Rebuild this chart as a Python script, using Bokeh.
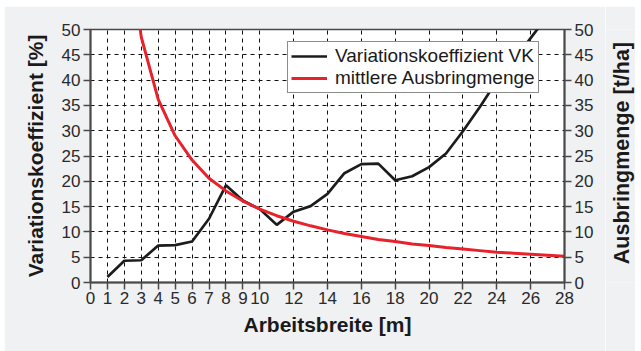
import math
from bokeh.plotting import figure
from bokeh.layouts import row
from bokeh.models import Range1d, LinearAxis, FixedTicker, Legend, LegendItem
from bokeh.core.properties import value
from bokeh.embed import file_html
from bokeh.resources import INLINE

# --- data ---
vk_x = list(range(1, 29))
vk_y = [1.1, 4.3, 4.4, 7.3, 7.4, 8.1, 12.6, 19.2, 16.2, 14.5, 11.4, 14.0, 15.1, 17.5,
        21.6, 23.4, 23.5, 20.2, 21.0, 22.8, 25.5, 29.9, 34.7, 39.8, 43.9, 48.3, 52.7, 57.0]
amount_x = list(range(2, 29))
amount_y = [72.5, 48.5, 36.2, 29.0, 24.2, 20.6, 18.1, 16.1, 14.5, 13.2, 12.1, 11.2, 10.4,
            9.7, 9.1, 8.5, 8.1, 7.6, 7.3, 6.9, 6.6, 6.3, 6.0, 5.8, 5.6, 5.4, 5.2]
x_ticks = [0, 1, 2, 3, 4, 5, 6, 7, 8, 9, 10, 12, 14, 16, 18, 20, 22, 24, 26, 28]
y_ticks = [0, 5, 10, 15, 20, 25, 30, 35, 40, 45, 50]
series_names = ["Variationskoeffizient VK", "mittlere Ausbringmenge"]
x_title = "Arbeitsbreite [m]"
y_title_left = "Variationskoeffizient [%]"
y_title_right = "Ausbringmenge [t/ha]"

FONT = "Liberation Sans"
BG = "#f0f1f3"
AXIS_C = "#4a4a4a"

p = figure(width=601, height=345, output_backend="svg", toolbar_location=None,
           x_range=Range1d(0, 28), y_range=Range1d(0, 50),
           min_border_left=86, min_border_right=41, min_border_top=23, min_border_bottom=69,
           background_fill_color="white", border_fill_color=BG,
           outline_line_color=AXIS_C, outline_line_width=1.5)
p.margin = (6, 0, 0, 4)
p.extra_y_ranges = {"right": Range1d(0, 50)}

right_axis = LinearAxis(y_range_name="right")
p.add_layout(right_axis, "right")

for ax in [p.xaxis[0], p.yaxis[0], right_axis]:
    ax.axis_line_color = AXIS_C
    ax.axis_line_width = 2
    ax.major_tick_line_color = AXIS_C
    ax.major_tick_line_width = 1.5
    ax.major_tick_out = 7
    ax.major_tick_in = 0
    ax.minor_tick_out = 0
    ax.minor_tick_in = 0
    ax.major_label_text_font = FONT
    ax.major_label_text_font_size = "17px"
    ax.major_label_text_color = "#2a2a2a"
    ax.axis_label_text_font = FONT
    ax.axis_label_text_font_size = "21px"
    ax.axis_label_text_font_style = "bold"
    ax.axis_label_text_color = "#1a1a1a"

p.xaxis[0].ticker = FixedTicker(ticks=x_ticks)
p.yaxis[0].ticker = FixedTicker(ticks=y_ticks)
right_axis.ticker = FixedTicker(ticks=y_ticks)

p.xaxis[0].axis_label = x_title
p.yaxis[0].axis_label = y_title_left

p.xaxis[0].major_label_standoff = 2
p.xaxis[0].axis_label_standoff = 6
p.yaxis[0].major_label_standoff = 3
p.yaxis[0].axis_label_standoff = 12
right_axis.major_label_standoff = 3

p.xgrid.ticker = FixedTicker(ticks=x_ticks)
p.ygrid.ticker = FixedTicker(ticks=y_ticks)
for g in [p.xgrid[0], p.ygrid[0]]:
    g.grid_line_color = "#111111"
    g.grid_line_width = 1
    g.grid_line_dash = "4 4"

r_vk = p.line(vk_x, vk_y, line_color="#1c1c1c", line_width=2.7)
r_am = p.line(amount_x, amount_y, line_color="#e8222b", line_width=3, y_range_name="right")

legend = Legend(items=[LegendItem(label=series_names[0], renderers=[r_vk]),
                       LegendItem(label=series_names[1], renderers=[r_am])],
                location=(197, 189), orientation="vertical")
legend.label_text_font = FONT
legend.label_text_font_size = "19px"
legend.label_text_line_height = 1.0
legend.label_text_color = "#1a1a1a"
legend.border_line_color = "#1a1a1a"
legend.border_line_width = 1
legend.background_fill_color = "white"
legend.background_fill_alpha = 1
legend.glyph_width = 36
legend.glyph_height = 16
legend.label_height = 16
legend.label_standoff = 8
legend.spacing = 0
legend.padding = 3
legend.margin = 0
p.add_layout(legend, "center")

# right-hand strip carrying the right axis title, reading bottom-to-top
t = figure(width=30, height=345, output_backend="svg", toolbar_location=None,
           x_range=Range1d(0, 30), y_range=Range1d(0, 345),
           x_axis_type=None, y_axis_type=None,
           min_border=0, min_border_left=0, min_border_right=0,
           min_border_top=0, min_border_bottom=0,
           background_fill_color=BG, border_fill_color=BG, outline_line_color=None)
t.margin = (6, 6, 0, 0)
t.xgrid.visible = False
t.ygrid.visible = False
t.text(x=[16.7], y=[176.5], text=[y_title_right], angle=math.pi / 2,
       text_align="center", text_baseline="middle",
       text_font=value(FONT), text_font_size="21.5px", text_font_style="bold",
       text_color="#1a1a1a")

layout = row(p, t, spacing=0)
open("out.html", "w").write(file_html(layout, INLINE))
